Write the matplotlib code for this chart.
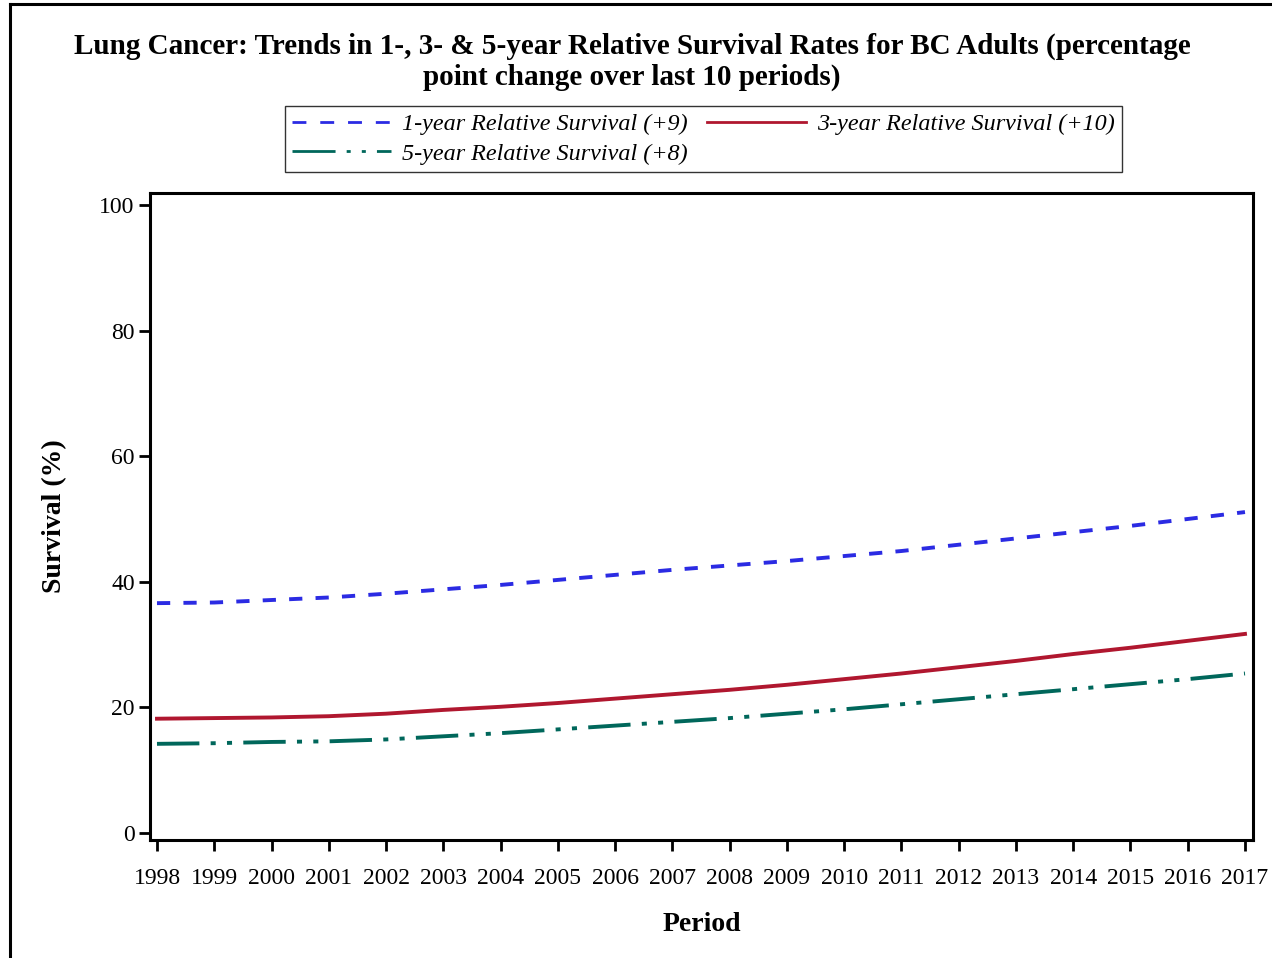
import matplotlib
matplotlib.use("Agg")
import matplotlib.pyplot as plt
from matplotlib.lines import Line2D

plt.rcParams['font.family'] = ['Liberation Serif', 'DejaVu Serif']

YEARS = list(range(1998, 2018))
ONE_YEAR = [36.6, 36.7, 37.1, 37.5, 38.1, 38.8, 39.5, 40.3, 41.1, 41.9,
            42.6, 43.3, 44.1, 44.9, 45.9, 46.9, 47.9, 48.9, 50.0, 51.1]
THREE_YEAR = [18.2, 18.3, 18.4, 18.6, 19.0, 19.6, 20.1, 20.7, 21.4, 22.1,
              22.8, 23.6, 24.5, 25.4, 26.4, 27.4, 28.5, 29.5, 30.6, 31.7]
FIVE_YEAR = [14.2, 14.3, 14.5, 14.6, 14.9, 15.4, 15.9, 16.5, 17.1, 17.7,
             18.3, 19.0, 19.7, 20.5, 21.3, 22.1, 22.9, 23.7, 24.5, 25.4]
LABELS = ["1-year Relative Survival (+9)",
          "3-year Relative Survival (+10)",
          "5-year Relative Survival (+8)"]
YTICKS = [0, 20, 40, 60, 80, 100]

BLUE = '#2B2BE3'
RED = '#B0172F'
GREEN = '#00675B'
LW = 2.8

fig = plt.figure(figsize=(12.72, 9.58), dpi=100)
# outer frame, cropped on the right and bottom
fx = 10 / 1272
fy = 1 - 4 / 958
fig.add_artist(Line2D([fx, fx], [-0.1, fy], transform=fig.transFigure,
                      color='black', linewidth=2.2))
fig.add_artist(Line2D([fx, 1.1], [fy, fy], transform=fig.transFigure,
                      color='black', linewidth=2.2))

ax = fig.add_axes([150 / 1272, 1 - 840 / 958, 1103 / 1272, 647 / 958])

ax.plot(YEARS, ONE_YEAR, color=BLUE, linewidth=LW, dashes=(3.4, 3.4))
ax.plot(YEARS, THREE_YEAR, color=RED, linewidth=LW)
ax.plot(YEARS, FIVE_YEAR, color=GREEN, linewidth=LW,
        dashes=(10.9, 2.9, 1.3, 2.9, 1.3, 2.9))

ax.set_xlim(1997.878, 2017.14)
ax.set_ylim(-1.11, 101.9)
ax.set_xticks(YEARS)
ax.set_xticklabels([str(y) for y in YEARS])
ax.set_yticks(YTICKS)
ax.tick_params(axis='both', labelsize=17, length=8, width=2, direction='out')
ax.tick_params(axis='x', pad=12)
ax.tick_params(axis='y', pad=3)
for sp in ax.spines.values():
    sp.set_linewidth(2.2)

ax.set_xlabel("Period", fontsize=20, fontweight='bold', labelpad=17)
ax.set_ylabel("Survival (%)", fontsize=20, fontweight='bold', labelpad=23)

fig.text(0.497, 1 - 62 / 958,
         "Lung Cancer: Trends in 1-, 3- & 5-year Relative Survival Rates for BC Adults (percentage\npoint change over last 10 periods)",
         ha='center', va='center', fontsize=21, fontweight='bold',
         linespacing=1.2)

h1 = Line2D([], [], color=BLUE, linewidth=2.0, dashes=(5, 5))
h3 = Line2D([], [], color=RED, linewidth=2.0)
h5 = Line2D([], [], color=GREEN, linewidth=2.0,
            dashes=(15.5, 4, 1.45, 4, 1.45, 4))
# column-wise fill: order so rows read 1-year, 3-year / 5-year
leg = fig.legend([h1, h5, h3], [LABELS[0], LABELS[2], LABELS[1]], ncol=2,
                 loc='center', bbox_to_anchor=(703.5 / 1272, 1 - 139 / 958),
                 prop={'size': 17.4, 'style': 'italic'},
                 frameon=True, fancybox=False, handlelength=4.1,
                 handletextpad=0.45, columnspacing=0.8, labelspacing=0.3,
                 borderpad=0.3, borderaxespad=0)
leg.get_frame().set_edgecolor('black')
leg.get_frame().set_linewidth(1.0)

fig.savefig("out.png", dpi=100)
